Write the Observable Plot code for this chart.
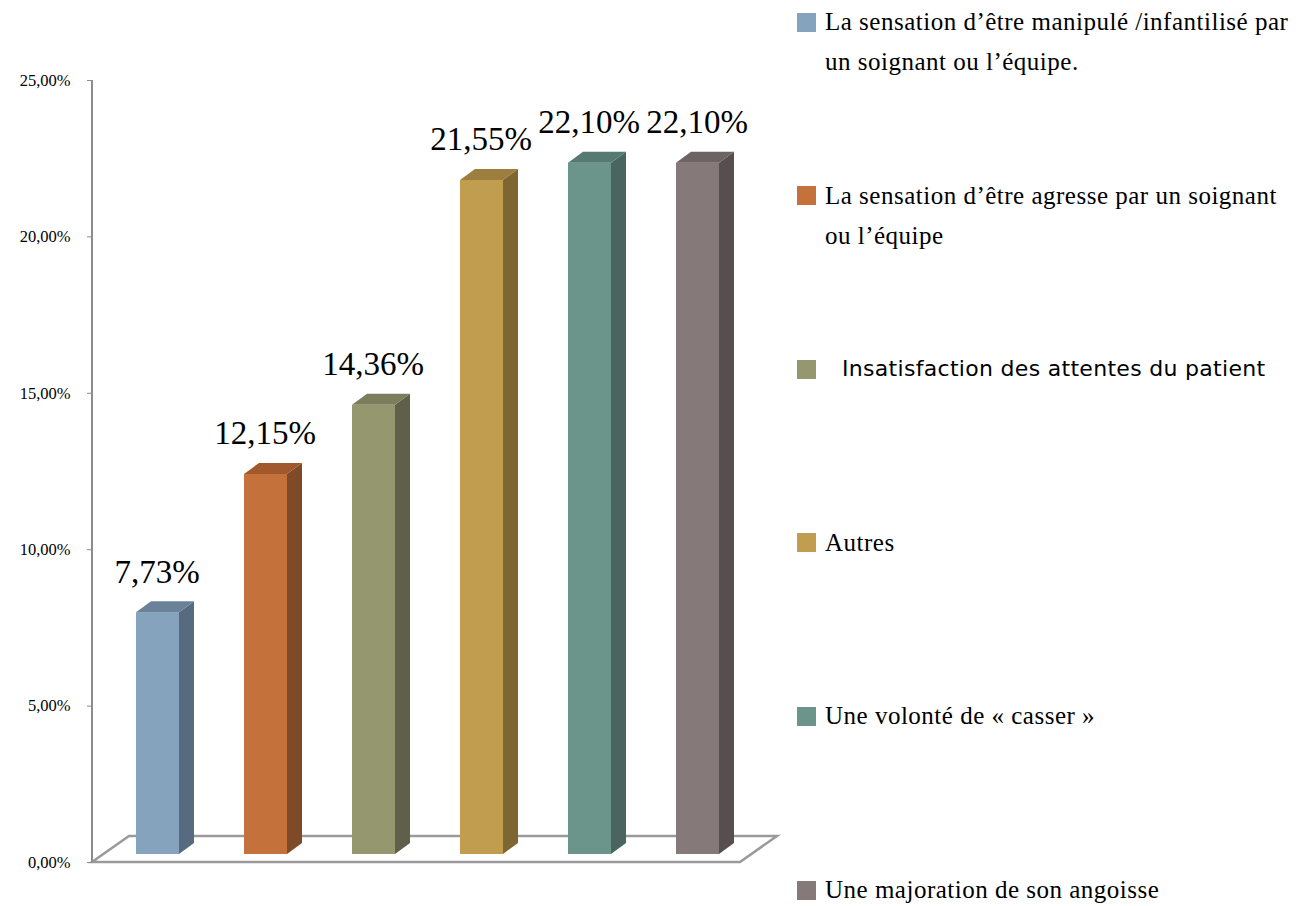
<!DOCTYPE html>
<html><head><meta charset="utf-8">
<script src="https://cdn.jsdelivr.net/npm/d3@7"></script>
<script src="https://cdn.jsdelivr.net/npm/@observablehq/plot@0.6"></script>
<style>
body{margin:0;background:#fff;width:1305px;height:906px;position:relative;overflow:hidden}
#chart{position:absolute;left:0;top:0}
.item{position:absolute;left:797px;width:508px}
.sw{position:absolute;left:0;width:19px;height:19px}
.tx{position:absolute;left:28px;font-family:"Liberation Serif",serif;font-size:25px;letter-spacing:0.5px;line-height:40px;color:#000;white-space:nowrap}
.tx.sans{left:45px;font-family:"DejaVu Sans",sans-serif;font-size:22px;letter-spacing:0.3px}
</style></head><body>
<div id="chart"></div><div id="legend"></div>
<script>
// ---- data ----
const categories = [
  "La sensation d’être manipulé /infantilisé par un soignant ou l’équipe.",
  "La sensation d’être agresse par un soignant ou l’équipe",
  "Insatisfaction des attentes du patient",
  "Autres",
  "Une volonté de « casser »",
  "Une majoration de son angoisse"
];
const values = [0.0773, 0.1215, 0.1436, 0.2155, 0.2210, 0.2210];
const valueLabels = ["7,73%", "12,15%", "14,36%", "21,55%", "22,10%", "22,10%"];
const frontColors = ["#86a3bd", "#c5713c", "#95976f", "#c19d50", "#6b948b", "#857a79"];
const sideColors  = ["#566b7f", "#7f4a27", "#5f604a", "#7d6631", "#4a655f", "#574f4f"];
const topColors   = ["#6a8298", "#a0582c", "#7c7d5d", "#9c7f3f", "#567a72", "#6d6362"];
const yTicks = [0, 0.05, 0.10, 0.15, 0.20, 0.25];
const legendLines = [
  ["La sensation d’être manipulé /infantilisé par", "un soignant ou l’équipe."],
  ["La sensation d’être agresse par un soignant", "ou l’équipe"],
  ["Insatisfaction des attentes du patient"],
  ["Autres"],
  ["Une volonté de « casser »"],
  ["Une majoration de son angoisse"]
];

const data = categories.map((c, i) => ({cat: c, v: values[i], label: valueLabels[i], front: frontColors[i], side: sideColors[i], top: topColors[i]}));

// ---- 3D geometry (style) ----
const BAR_DX = 12, BAR_DY = -8;     // bar front-face offset inside the floor
const DEP_DX = 15, DEP_DY = -11;    // bar depth
const FL_DX = 37, FL_DY = -26;      // floor depth

function depthFaces(index, scales) {
  const x = scales.x, y = scales.y;
  const bw = x.bandwidth();
  const g = d3.create("svg:g");
  for (const d of data) {
    const x0 = x(d.cat) + BAR_DX, x1 = x0 + bw;
    const yt = y(d.v) + BAR_DY, yb = y(0) + BAR_DY;
    g.append("polygon")
      .attr("points", [[x1, yt], [x1 + DEP_DX, yt + DEP_DY], [x1 + DEP_DX, yb + DEP_DY], [x1, yb]].join(" "))
      .attr("fill", d.side);
    g.append("polygon")
      .attr("points", [[x0, yt], [x0 + DEP_DX, yt + DEP_DY], [x1 + DEP_DX, yt + DEP_DY], [x1, yt]].join(" "))
      .attr("fill", d.top);
  }
  return g.node();
}

function floorAndAxis(index, scales) {
  const x = scales.x, y = scales.y;
  const [xa, xb] = x.range();
  const y0 = y(0), yTop = y(yTicks[yTicks.length - 1]);
  const g = d3.create("svg:g");
  g.append("polygon")
    .attr("points", [[xa, y0], [xb, y0], [xb + FL_DX, y0 + FL_DY], [xa + FL_DX, y0 + FL_DY]].join(" "))
    .attr("fill", "none").attr("stroke", "#9a9a9a").attr("stroke-width", 2.5).attr("stroke-linejoin", "miter");
  g.append("line")
    .attr("x1", xa).attr("x2", xa).attr("y1", yTop).attr("y2", y0)
    .attr("stroke", "#8c8c8c").attr("stroke-width", 2);
  return g.node();
}

const chart = Plot.plot({
  width: 790,
  height: 906,
  marginLeft: 92,
  marginRight: 50,
  marginTop: 80,
  marginBottom: 44,
  style: {fontFamily: "'Liberation Serif', serif", fontSize: "16px", color: "#000", background: "#fff"},
  x: {domain: categories, paddingInner: 0.6, paddingOuter: 0.3, axis: null},
  y: {domain: [0, 0.25], axis: null},
  color: {type: "identity"},
  marks: [
    floorAndAxis,
    Plot.axisY(yTicks, {
      tickFormat: d => (d * 100).toFixed(2).replace(".", ",") + "%",
      tickSize: 5, tickPadding: 17, stroke: "#8c8c8c", fill: "#000", fontSize: 16.5, label: null
    }),
    Plot.barY(data, {x: "cat", y: "v", fill: "front", dx: BAR_DX, dy: BAR_DY}),
    depthFaces,
    Plot.text(data, {x: "cat", y: "v", text: "label", dx: BAR_DX - 1, dy: -38, lineAnchor: "bottom", fontSize: 33, letterSpacing: 1.2, fill: "#000"})
  ]
});
document.getElementById("chart").appendChild(chart);

// ---- legend ----
const legend = document.getElementById("legend");
legendLines.forEach((lines, i) => {
  const cy = 22 + i * 173.6;
  const item = document.createElement("div");
  item.className = "item";
  item.style.top = (cy - 20) + "px";
  const sw = document.createElement("div");
  sw.className = "sw";
  sw.style.top = "10.5px";
  sw.style.background = frontColors[i];
  const tx = document.createElement("div");
  tx.className = "tx" + (i === 2 ? " sans" : "");
  tx.style.top = "0px";
  tx.innerHTML = lines.join("<br>");
  item.appendChild(sw); item.appendChild(tx);
  legend.appendChild(item);
});
</script>
</body></html>
